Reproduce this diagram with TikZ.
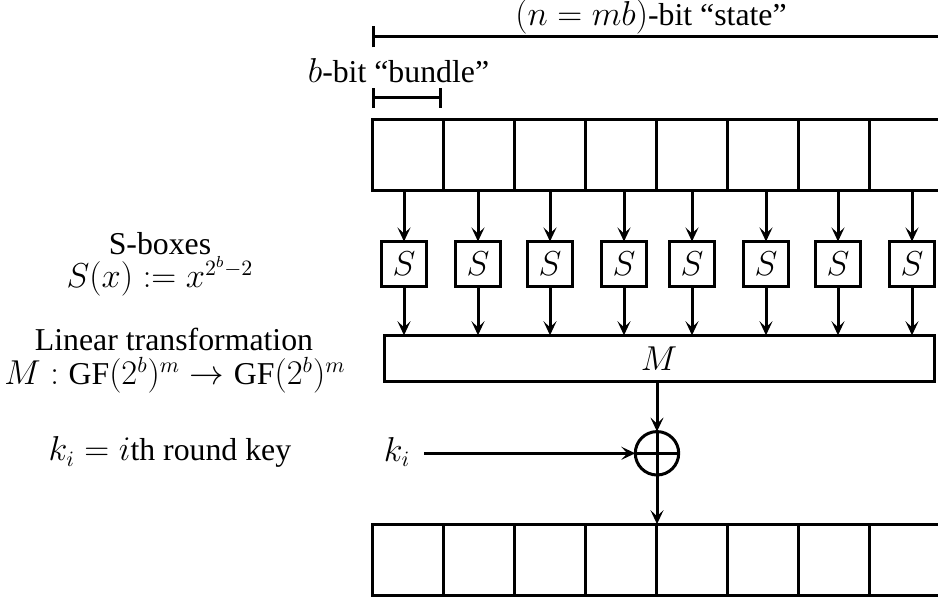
\documentclass[tikz,border=0pt]{standalone}
\usepackage{fontspec}
\setmainfont{Liberation Serif}
\usetikzlibrary{arrows.meta}
\begin{document}
\begin{tikzpicture}[x=0.5pt,y=-0.5pt,
  every node/.style={font=\fontsize{15.9}{19}\selectfont},
  ln/.style={line width=1.5pt},
  cell/.style={draw,ln,minimum width=35.5pt,minimum height=35.5pt,inner sep=0pt,outer sep=0pt},
  sbox/.style={draw,line width=1.6pt,minimum width=22.5pt,minimum height=22.5pt,inner sep=0pt,outer sep=0pt},
  mbox/.style={draw,ln,minimum width=275pt,minimum height=23pt,inner sep=0pt,outer sep=0pt},
  xorc/.style={draw,ln,circle,minimum size=21.7pt,inner sep=0pt,outer sep=0pt},
  arr/.style={ln,-{Stealth[length=7pt,width=6.5pt,inset=3pt]}},
  lbl/.style={anchor=base,inner sep=0pt}
]
\useasboundingbox (0,0) rectangle (938,598);
% dimension lines
\coordinate (st0) at (371.7,37);
\coordinate (st1) at (945,37);
\draw[ln,{Bar[width=10.5pt,line width=1.5pt]}-] (st0) -- (st1);
\coordinate (bu0) at (371.7,98);
\coordinate (bu1) at (442,98);
\draw[ln,{Bar[width=10pt,line width=1.5pt]}-{Bar[width=10pt,line width=1.5pt]}] (bu0) -- (bu1);
\node[lbl] (statelbl) at (651,26) {$(n=mb)$-bit “state”};
\node[lbl] (bundlelbl) at (398.5,83) {$b$-bit “bundle”};
% rows
\foreach \i in {1,...,8} {
  \node[cell] (t\i) at ({407.5+71*(\i-1)},155) {};
  \node[cell] (b\i) at ({407.5+71*(\i-1)},559.7) {};
}
% M box
\node[mbox] (M) at (659,358.3) {$M$};
% S boxes
\foreach \sx [count=\i] in {404,478,550,624,692,766,838,912} {
  \node[sbox] (s\i) at (\sx,264) {$S$};
  \draw[arr] (t\i.south -| s\i) -- (s\i.north);
  \draw[arr] (s\i.south) -- (s\i.south |- M.north);
}
% xor
\node[xorc] (xor) at (657,453.3) {};
\draw[ln] (xor.north) -- (xor.south) (xor.west) -- (xor.east);
\draw[arr] (M.south -| xor) -- (xor.north);
\draw[arr] (xor.south) -- (xor.south |- b4.north);
\node[lbl] (ki) at (397,461.7) {$k_i$};
\draw[arr,shorten <=6.8pt] (ki.east |- xor.west) -- (xor.west);
% left labels
\node[lbl] (sbl) at (160,255) {S-boxes};
\node[lbl] (sxl) at (160,288) {$S(x) := x^{2^b-2}$};
\node[lbl] (ltl) at (174,351) {Linear transformation};
\node[lbl] (mtl) at (175,385) {$M:\textrm{GF}(2^b)^m\rightarrow\textrm{GF}(2^b)^m$};
\node[lbl] (kil) at (170,461) {$k_i = i$th round key};
\end{tikzpicture}
\end{document}
